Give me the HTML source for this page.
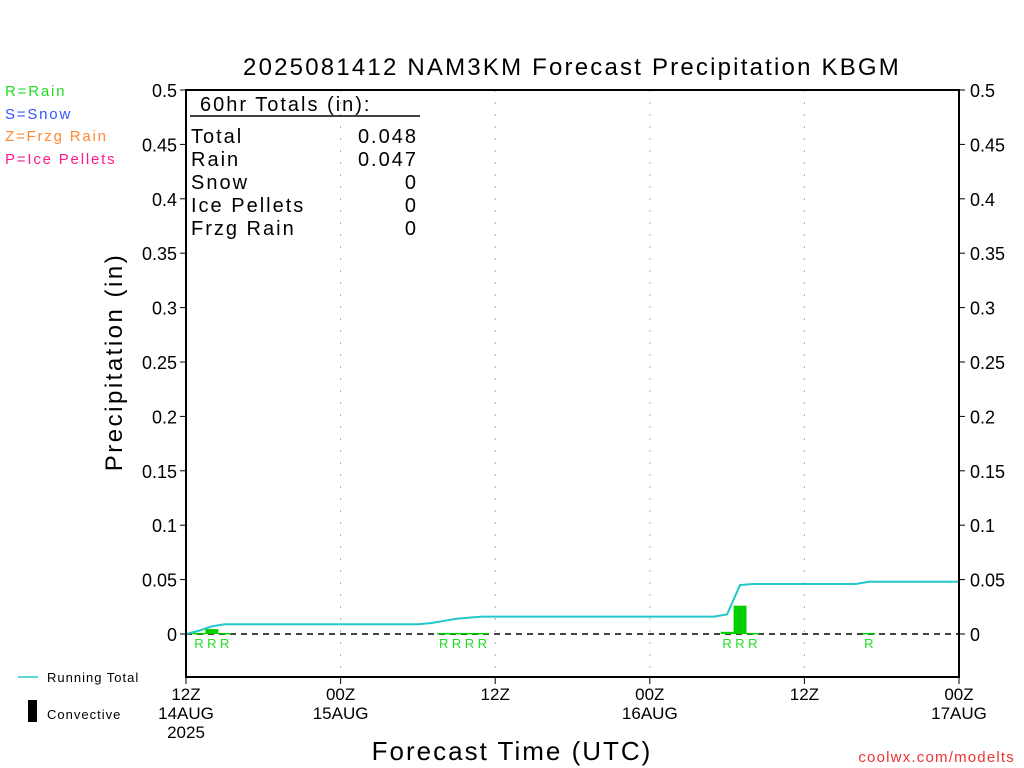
<!DOCTYPE html>
<html><head><meta charset="utf-8"><style>
body{margin:0;background:#fff;}
svg{display:block;font-family:"Liberation Sans",sans-serif;}
</style></head><body>
<svg id="c" width="1024" height="768" xmlns="http://www.w3.org/2000/svg">
<text x="572" y="75" font-size="24" text-anchor="middle" letter-spacing="2.2">2025081412 NAM3KM Forecast Precipitation KBGM</text>
<g font-size="15" letter-spacing="1.8">
<text x="5" y="96" fill="#22dd22">R=Rain</text>
<text x="5" y="119" fill="#3355ff">S=Snow</text>
<text x="5" y="141" fill="#ff8833">Z=Frzg Rain</text>
<text x="5" y="164" fill="#ff1a8c">P=Ice Pellets</text>
</g>
<g id="grid"></g>
<line x1="186" y1="634" x2="959" y2="634" stroke="#444" stroke-width="2" stroke-dasharray="6,5"/>
<g id="bars"></g>
<polyline id="run" fill="none" stroke="#22c8c8" stroke-width="2"/>
<g id="rlabels" font-size="13" fill="#22dd22"></g>
<rect x="186" y="90" width="773" height="587" fill="none" stroke="#000" stroke-width="2"/>
<g id="yticks" font-size="18"></g>
<g id="xticks" font-size="17" text-anchor="middle"></g>
<text transform="translate(122,362) rotate(-90)" font-size="24" text-anchor="middle" letter-spacing="2.5">Precipitation (in)</text>
<text x="512" y="760" font-size="26" text-anchor="middle" letter-spacing="2">Forecast Time (UTC)</text>
<text x="1015" y="762" font-size="15" fill="#ee3333" text-anchor="end" letter-spacing="1.2">coolwx.com/modelts</text>
<g font-size="20" letter-spacing="2">
<text x="200" y="111">60hr Totals (in):</text>
<line x1="190" y1="116" x2="420" y2="116" stroke="#000" stroke-width="1.5"/>
<text x="191" y="143">Total</text><text x="418" y="143" text-anchor="end">0.048</text>
<text x="191" y="166">Rain</text><text x="418" y="166" text-anchor="end">0.047</text>
<text x="191" y="189">Snow</text><text x="418" y="189" text-anchor="end">0</text>
<text x="191" y="212">Ice Pellets</text><text x="418" y="212" text-anchor="end">0</text>
<text x="191" y="235">Frzg Rain</text><text x="418" y="235" text-anchor="end">0</text>
</g>
<g font-size="13" letter-spacing="1">
<line x1="18" y1="677" x2="38" y2="677" stroke="#22c8c8" stroke-width="1.5"/>
<text x="47" y="682">Running Total</text>
<rect x="28" y="700" width="9" height="22" fill="#000"/>
<text x="47" y="719">Convective</text>
</g>
</svg>
<script>
const barHours=[1,2,3,20,21,22,23,42,43,44,53];
const barValues=[0.001,0.0045,0.001,0.001,0.001,0.001,0.001,0.002,0.026,0.001,0.001];
const barTypes=["R","R","R","R","R","R","R","R","R","R","R"];
const runHours=[0,1,2,3,18,19,20,21,22,23,41,42,43,44,52,53,60];
const runValues=[0,0.003,0.007,0.009,0.009,0.010,0.012,0.014,0.015,0.016,0.016,0.018,0.045,0.046,0.046,0.048,0.048];
const yTicks=[0,0.05,0.1,0.15,0.2,0.25,0.3,0.35,0.4,0.45,0.5];
const yTickLabels=["0","0.05","0.1","0.15","0.2","0.25","0.3","0.35","0.4","0.45","0.5"];
const xTickHours=[0,12,24,36,48,60];
const xTickLabels=[["12Z","14AUG","2025"],["00Z","15AUG"],["12Z"],["00Z","16AUG"],["12Z"],["00Z","17AUG"]];
const NS="http://www.w3.org/2000/svg";
const X=h=>186+h*773/60;
const Y=v=>634-v*1088;
function mk(t,a,p){const e=document.createElementNS(NS,t);for(const k in a)e.setAttribute(k,a[k]);p.appendChild(e);return e;}
const grid=document.getElementById('grid');
[12,24,36,48].forEach(h=>{const l=mk('line',{x1:X(h),y1:90,x2:X(h),y2:677,stroke:'#aaa','stroke-dasharray':'2,10'},grid);

});
const bars=document.getElementById('bars'),rl=document.getElementById('rlabels');
barHours.forEach((h,i)=>{const y=Y(barValues[i]);const r=mk('rect',{x:X(h)-6.4,y:y,width:12.9,height:Math.max(634-y,1.5),fill:'#00d000'},bars);


const t=mk('text',{x:X(h),y:648,'text-anchor':'middle'},rl);t.textContent=barTypes[i];

});
document.getElementById('run').setAttribute('points',runHours.map((h,i)=>X(h)+','+Y(runValues[i])).join(' '));
const yt=document.getElementById('yticks');
yTicks.forEach((v,i)=>{const y=Y(v);
mk('line',{x1:186,y1:y,x2:180,y2:y,stroke:'#000'},yt);mk('line',{x1:959,y1:y,x2:965,y2:y,stroke:'#000'},yt);
const a=mk('text',{x:177,y:y+7,'text-anchor':'end'},yt);a.textContent=yTickLabels[i];


const b=mk('text',{x:970,y:y+7},yt);b.textContent=yTickLabels[i];

});
const xt=document.getElementById('xticks');
xTickHours.forEach((h,i)=>{mk('line',{x1:X(h),y1:677,x2:X(h),y2:684,stroke:'#000'},xt);
xTickLabels[i].forEach((s,j)=>{const t=mk('text',{x:X(h),y:700+j*19},xt);t.textContent=s;

});});
</script>
</body></html>
